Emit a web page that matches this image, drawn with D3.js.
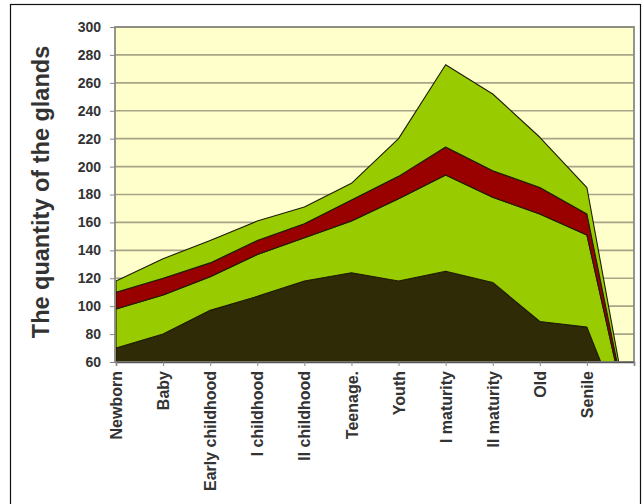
<!DOCTYPE html>
<html>
<head>
<meta charset="utf-8">
<script src="https://cdn.jsdelivr.net/npm/d3@7"></script>
<style>
  html, body { margin: 0; padding: 0; background: #fff; }
  svg { display: block; }
</style>
</head>
<body>
<svg id="chart" width="643" height="504"></svg>
<script>
const categories = ["Newborn", "Baby", "Early childhood", "I childhood", "II childhood", "Teenage.", "Youth", "I maturity", "II maturity", "Old", "Senile", ""];
const layer1 = [70, 80, 97, 107, 118, 124, 118, 125, 117, 89, 85, 0];
const layer2 = [28, 28, 24, 30, 31, 37, 59, 69, 61, 77, 66, 0];
const layer3 = [12, 12, 10, 10, 10, 15, 16, 20, 19, 19, 15, 0];
const layer4 = [8, 14, 16, 14, 12, 12, 27, 59, 55, 36, 19, 0];
const yTicks = [60, 80, 100, 120, 140, 160, 180, 200, 220, 240, 260, 280, 300];
const yTitle = "The quantity of the glands";
const colors = ["#2f2b06", "#99cc00", "#990000", "#99cc00"];

const svg = d3.select("#chart");
const pL = 115, pR = 634, pT = 27, pB = 362;
const font = "Arial, 'Liberation Sans', sans-serif";

// outer frame
svg.append("rect").attr("x", 10.5).attr("y", 4.5).attr("width", 630).attr("height", 520)
  .attr("fill", "none").attr("stroke", "#111").attr("stroke-width", 1.2);

const x = d3.scalePoint().domain(d3.range(categories.length)).range([pL + 1, pR]);
const y = d3.scaleLinear().domain([60, 300]).range([pB, pT]);

// plot background
svg.append("rect").attr("x", pL).attr("y", pT).attr("width", pR - pL).attr("height", pB - pT)
  .attr("fill", "#ffffcc");

// gridlines
svg.append("g").selectAll("line").data(yTicks).join("line")
  .attr("x1", pL).attr("x2", pR)
  .attr("y1", d => y(d)).attr("y2", d => y(d))
  .attr("stroke", "#a8a488").attr("stroke-width", 1.6);

// stack
const rows = categories.map((c, i) => ({ i, a: layer1[i], b: layer2[i], c: layer3[i], d: layer4[i] }));
const stacked = d3.stack().keys(["a", "b", "c", "d"])(rows);

svg.append("defs").append("clipPath").attr("id", "clip")
  .append("rect").attr("x", pL).attr("y", pT).attr("width", pR - pL).attr("height", pB - pT);

const area = d3.area()
  .x(d => x(d.data.i))
  .y0(d => y(d[0]))
  .y1(d => y(d[1]));

svg.append("g").attr("clip-path", "url(#clip)").selectAll("path").data(stacked).join("path")
  .attr("d", area)
  .attr("fill", (d, i) => colors[i])
  .attr("stroke", "#1e1c04")
  .attr("stroke-width", 1.1)
  .attr("stroke-linejoin", "round");

// plot border
svg.append("rect").attr("x", pL).attr("y", pT).attr("width", pR - pL).attr("height", pB - pT)
  .attr("fill", "none").attr("stroke", "#8a8a80").attr("stroke-width", 1.8);

// y axis
const yAxis = d3.axisLeft(y).tickValues(yTicks).tickSize(5).tickPadding(9);
const gy = svg.append("g").attr("transform", `translate(${pL},0)`).call(yAxis);
gy.select(".domain").remove();
gy.selectAll(".tick line").attr("stroke", "#888");
gy.selectAll("text").attr("font-family", font)
  .attr("font-size", 14).attr("font-weight", "bold").attr("fill", "#333");

// x axis
const xAxis = d3.axisBottom(x).tickFormat(i => categories[i]).tickSize(4).tickPadding(4);
const gx = svg.append("g").attr("transform", `translate(0,${pB})`).call(xAxis);
gx.select(".domain").attr("stroke", "#555").attr("stroke-width", 1.5);
gx.selectAll(".tick line").attr("stroke", "#888");
gx.selectAll("text")
  .attr("font-family", font)
  .attr("font-size", 16).attr("font-weight", "bold").attr("fill", "#333")
  .attr("transform", "rotate(-90)")
  .attr("text-anchor", "end")
  .attr("dy", "0.35em")
  .attr("x", -9)
  .attr("y", 0);

// y title
svg.append("text")
  .attr("transform", `translate(49,192) rotate(-90)`)
  .attr("text-anchor", "middle")
  .attr("font-family", font)
  .attr("font-size", 23.5).attr("font-weight", "bold").attr("fill", "#333")
  .text(yTitle);
</script>
</body>
</html>
